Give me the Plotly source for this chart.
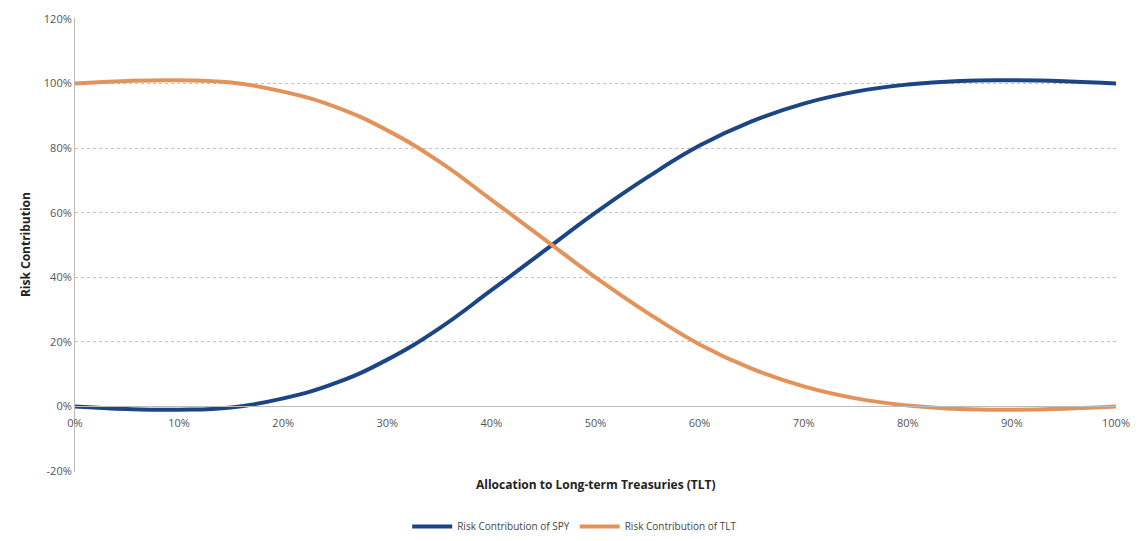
import plotly.graph_objects as go

alloc = [0, 5, 10, 15, 20, 25, 30, 35, 40, 45, 50, 55, 60, 65, 70, 75, 80, 85, 90, 95, 100]
spy = [0, -0.8, -1.0, -0.3, 2.5, 7.2, 14.5, 24.2, 36.0, 48.0, 60.0, 71.0, 80.8, 88.3, 93.8, 97.5, 99.7, 100.8, 101.0, 100.7, 100.0]
tlt = [100.0, 100.8, 101.0, 100.3, 97.5, 92.8, 85.5, 75.8, 64.0, 52.0, 40.0, 29.0, 19.2, 11.7, 6.2, 2.5, 0.3, -0.8, -1.0, -0.7, 0]
x_ticks = [0, 10, 20, 30, 40, 50, 60, 70, 80, 90, 100]
y_ticks = [-20, 0, 20, 40, 60, 80, 100, 120]

font = "Open Sans"
fig = go.Figure()
fig.add_trace(go.Scatter(x=alloc, y=spy, mode="lines", name="Risk Contribution of SPY",
                         line=dict(color="#1C4585", width=4, shape="spline", smoothing=1.3)))
fig.add_trace(go.Scatter(x=alloc, y=tlt, mode="lines", name="Risk Contribution of TLT",
                         line=dict(color="#E3925A", width=4, shape="spline", smoothing=1.3)))

fig.update_layout(
    width=1138, height=541,
    margin=dict(l=75, r=22, t=18, b=69, autoexpand=False),
    plot_bgcolor="white", paper_bgcolor="white",
    font=dict(family=font, size=11, color="#444"),
    showlegend=True,
    legend=dict(orientation="h", x=0.48, xanchor="center", y=-0.12, yanchor="middle",
                font=dict(size=10, color="#444"), itemwidth=40),
    xaxis=dict(range=[0, 100], tickvals=x_ticks, ticktext=[f"{v}%" for v in x_ticks],
               showgrid=False, zeroline=False, showline=True, linecolor="#bbbbbb",
               anchor="free", position=20.3/140.6, ticks="", ticklabelstandoff=6,
               tickfont=dict(size=11, color="#555")),
    yaxis=dict(range=[-20.3, 120.3], tickvals=y_ticks, ticktext=[f"{v}%" for v in y_ticks],
               showgrid=True, gridcolor="#c0c0c0", griddash="dot", gridwidth=1,
               zeroline=False, showline=True, linecolor="#bbbbbb", ticks="",
               tickfont=dict(size=11, color="#555")),
    annotations=[
        dict(text="<b>Allocation to Long-term Treasuries (TLT)</b>", x=0.5, xref="paper",
             y=-0.005, yref="paper", yanchor="top", showarrow=False, font=dict(size=12, color="#222")),
        dict(text="<b>Risk Contribution</b>", x=-0.058, xref="paper", y=0.5, yref="paper",
             textangle=-90, showarrow=False, font=dict(size=12, color="#222")),
    ],
)
fig.write_html("out.html")
